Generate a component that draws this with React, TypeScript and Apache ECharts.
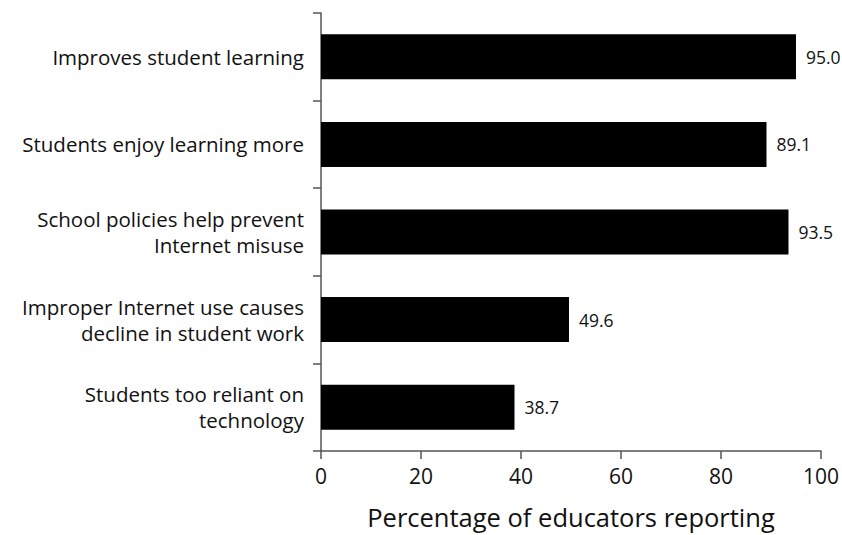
import React, { useEffect, useRef } from "react";
import * as echarts from "echarts";

const categories = [
  "Improves student learning",
  "Students enjoy learning more",
  "School policies help prevent\nInternet misuse",
  "Improper Internet use causes\ndecline in student work",
  "Students too reliant on\ntechnology",
];
const values = [95.0, 89.1, 93.5, 49.6, 38.7];
const xTicks = [0, 20, 40, 60, 80, 100];
const xTitle = "Percentage of educators reporting";

export default function App() {
  const ref = useRef<HTMLDivElement>(null);
  useEffect(() => {
    if (!ref.current) return;
    const chart = echarts.init(ref.current, null, { renderer: "svg" });
    const font = "'Open Sans', sans-serif";
    chart.setOption({
      animation: false,
      grid: { left: 321, right: 19, top: 13, bottom: 82, containLabel: false },
      xAxis: {
        type: "value",
        min: xTicks[0],
        max: xTicks[xTicks.length - 1],
        interval: 20,
        name: xTitle,
        nameLocation: "middle",
        nameGap: 53,
        nameTextStyle: { fontFamily: font, fontSize: 25.5, color: "#111" },
        axisLine: { show: true, lineStyle: { color: "#555", width: 1.5 } },
        axisTick: { show: true, length: 8, lineStyle: { color: "#555", width: 1.5 } },
        axisLabel: { fontFamily: font, fontSize: 21, color: "#111", margin: 14 },
        splitLine: { show: false },
      },
      yAxis: {
        type: "category",
        inverse: true,
        data: categories,
        axisLine: { show: true, lineStyle: { color: "#555", width: 1.5 } },
        axisTick: { show: true, length: 8, lineStyle: { color: "#555", width: 1.5 } },
        axisLabel: {
          fontFamily: font,
          fontSize: 20.5,
          color: "#111",
          margin: 17,
          lineHeight: 26,
          align: "right",
        },
      },
      series: [
        {
          type: "bar",
          data: values,
          barWidth: 45,
          itemStyle: { color: "#000" },
          label: {
            show: true,
            position: "right",
            distance: 10,
            fontFamily: font,
            fontSize: 17.5,
            color: "#111",
            formatter: (p: any) => Number(p.value).toFixed(1),
          },
        },
      ],
    });
    return () => chart.dispose();
  }, []);
  return (
    <div
      ref={ref}
      style={{ position: "absolute", left: 0, top: 0, width: 842, height: 535 }}
    />
  );
}
